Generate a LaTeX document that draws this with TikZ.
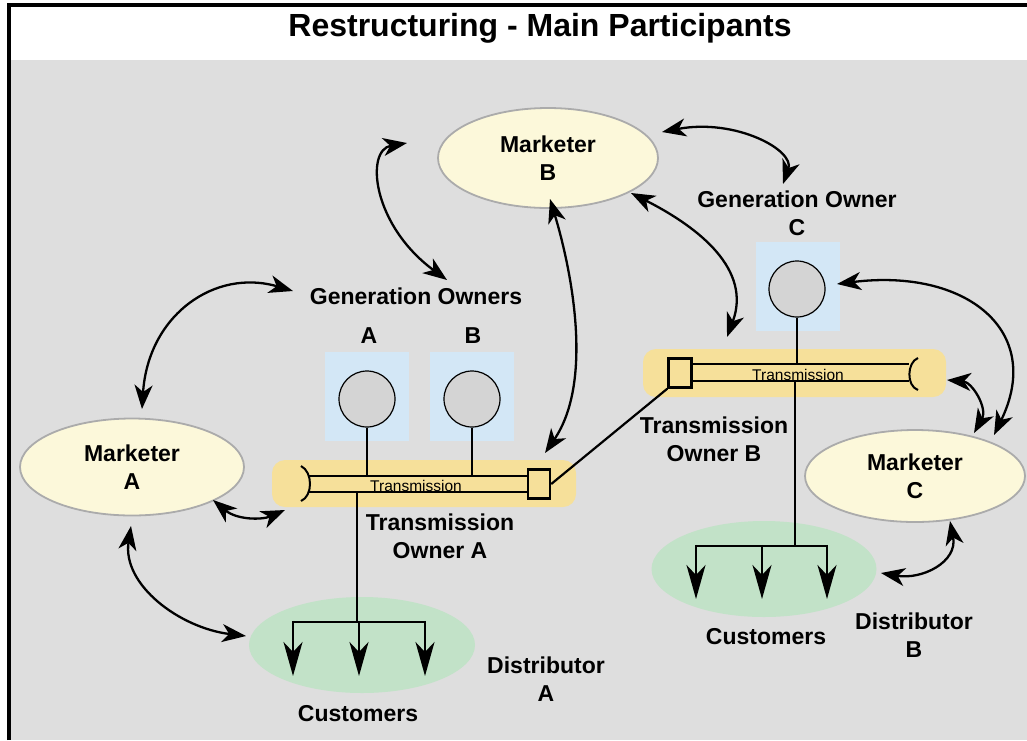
\documentclass[tikz,border=0pt]{standalone}
\usepackage{fontspec}
\setmainfont{Liberation Sans}
\usetikzlibrary{arrows.meta,shapes.geometric}
\definecolor{bggrey}{HTML}{DEDEDE}
\definecolor{mktfill}{HTML}{FCF8DA}
\definecolor{mktline}{HTML}{ABABAB}
\definecolor{genblue}{HTML}{D3E7F6}
\definecolor{gencirc}{HTML}{D4D4D4}
\definecolor{trnyellow}{HTML}{F6E09A}
\definecolor{custgreen}{HTML}{C2E2C8}
\tikzset{
  lbl/.style={font=\fontsize{23}{28}\selectfont\bfseries, align=center, inner sep=0pt},
  mkt/.style={ellipse, draw=mktline, line width=1.8pt, fill=mktfill, inner sep=0pt,
              font=\fontsize{23}{28}\selectfont\bfseries, align=center},
  genbox/.style={fill=genblue, minimum width=84pt, minimum height=89pt, inner sep=0pt},
  gencircle/.style={circle, draw=black, line width=1.2pt, fill=gencirc, minimum size=56pt, inner sep=0pt},
  trnband/.style={fill=trnyellow, rounded corners=13pt, inner sep=0pt},
  custell/.style={ellipse, fill=custgreen, inner sep=0pt},
  barline/.style={line width=2.4pt},
  tiny/.style={font=\fontsize{15.5}{18}\selectfont, inner sep=0pt},
  link/.style={line width=2.3pt, {Stealth[length=24pt,width=18pt,inset=7pt]}-{Stealth[length=24pt,width=18pt,inset=7pt]}},
  feed/.style={line width=2.4pt, -{Stealth[length=34pt,width=19pt,inset=10pt]}},
}
\begin{document}
\begin{tikzpicture}[x=1pt,y=-1pt]
\useasboundingbox (0,0) rectangle (1027,740);
% background, title band and frame
\fill[white] (0,0) rectangle (1027,740);
\fill[bggrey] (11,60) rectangle (1027,740);
\draw[line width=4pt] (9,740) -- (9,4.5) -- (1027,4.5);
\node[font=\fontsize{32}{36}\selectfont\bfseries, inner sep=0pt] (title) at (540,28) {Restructuring - Main Participants};

% generation owners A and B
\node[genbox] (gbA) at (367,396.5) {};
\node[genbox] (gbB) at (472,396.5) {};
\node[gencircle] (gA) at (367,399) {};
\node[gencircle] (gB) at (472,399) {};
\node[lbl] (gAl) at (369,336) {A};
\node[lbl] (gBl) at (473,336) {B};
\node[lbl] (gos) at (416,296) {Generation Owners};

% generation owner C
\node[genbox] (gbC) at (798,286.5) {};
\node[gencircle] (gC) at (797,289) {};
\node[lbl] (goc) at (797,213) {Generation Owner\\C};

% transmission owner A
\node[trnband, minimum width=304pt, minimum height=47pt] (tA) at (424,483.5) {};
\coordinate (tAtl) at (309,476);
\coordinate (tAbl) at (309,492);
\coordinate (tAtr) at (528,476);
\coordinate (tAbr) at (528,492);
\node[draw, line width=2.4pt, minimum width=22pt, minimum height=29pt, inner sep=0pt] (sqA) at (539,484) {};
\draw[barline] (tAtl) -- (tAtr) (tAbl) -- (tAbr);
\draw[line width=2pt] (301,466) .. controls (313,472) and (313,496) .. (301,501);
\node[tiny] (tAtxt) at (416,485.5) {Transmission};
\node[lbl] (tAl) at (440,536) {Transmission\\Owner A};

% transmission owner B
\node[trnband, minimum width=303pt, minimum height=48pt] (tB) at (794.5,373) {};
\coordinate (tBtl) at (692,364);
\coordinate (tBbl) at (692,381);
\coordinate (tBtr) at (909,364);
\coordinate (tBbr) at (909,381);
\node[draw, line width=2.4pt, minimum width=23pt, minimum height=29pt, inner sep=0pt] (sqB) at (680,373) {};
\draw[barline] (tBtl) -- (tBtr) (tBbl) -- (tBbr);
\draw[line width=2pt] (918,358) .. controls (907,362) and (906,386) .. (918,390);
\node[tiny] (tBtxt) at (798,374.5) {Transmission};
\node[lbl] (tBl) at (714,439) {Transmission\\Owner B};

% generator taps onto the lines
\draw[line width=1.2pt] (gA.south) -- (gA.south |- tAtl);
\draw[line width=1.2pt] (gB.south) -- (gB.south |- tAtl);
\draw[line width=1.2pt] (gC.south) -- (gC.south |- tBtl);

% interconnection between the two transmission owners
\draw[line width=2.2pt] (sqA.east) -- (sqB.south west);

% distributors and customers
\node[custell, minimum width=226pt, minimum height=96pt] (cA) at (362,645) {};
\node[custell, minimum width=225pt, minimum height=96pt] (cB) at (764,569) {};
\node[lbl] (cAl) at (358,714) {Customers};
\node[lbl] (cBl) at (766,637) {Customers};
\node[lbl] (dA) at (546,679) {Distributor\\A};
\node[lbl] (dB) at (914,635) {Distributor\\B};

% marketers
\node[mkt, minimum width=220pt, minimum height=100pt] (mB) at (548,158) {Marketer\\B};
\node[mkt, minimum width=224pt, minimum height=97pt] (mA) at (132,467) {Marketer\\A};
\node[mkt, minimum width=220pt, minimum height=92pt] (mC) at (915,476) {Marketer\\C};

% delivery trees
\coordinate (jA) at (357,622);
\coordinate (jB) at (795,546);
\draw[barline] (357,492) -- (jA);
\draw[barline] (293,622) -- (425,622);
\draw[feed] (293,620.8) -- (293,676);
\draw[feed] (359,620.8) -- (359,676);
\draw[feed] (425,620.8) -- (425,676);
\draw[barline] (795,381) -- (jB);
\draw[barline] (696,546) -- (827,546);
\draw[feed] (696,544.8) -- (696,599);
\draw[feed] (762,544.8) -- (762,599);
\draw[feed] (827,544.8) -- (827,599);

% business relationships
\coordinate (e1a) at (407,143);  \coordinate (e1b) at (447,280);
\coordinate (e2a) at (662,132);  \coordinate (e2b) at (783,184);
\coordinate (e3a) at (550,199);  \coordinate (e3b) at (545,453);
\coordinate (e4a) at (631,193);  \coordinate (e4b) at (727,337);
\coordinate (e5a) at (293,291);  \coordinate (e5b) at (142,409);
\coordinate (e6a) at (213,500);  \coordinate (e6b) at (285,510);
\coordinate (e7a) at (131,526);  \coordinate (e7b) at (246,636);
\coordinate (e8a) at (837,284);  \coordinate (e8b) at (994,435);
\coordinate (e9a) at (947,380);  \coordinate (e9b) at (974,433);
\coordinate (e10a) at (950,521); \coordinate (e10b) at (881,573);
\draw[link] (e1a) .. controls (365,150) and (372,225) .. (e1b);
\draw[link] (e2a) .. controls (735,118) and (795,150) .. (e2b);
\draw[link] (e3a) .. controls (570,265) and (595,380) .. (e3b);
\draw[link] (e4a) .. controls (700,228) and (752,270) .. (e4b);
\draw[link] (e5a) .. controls (215,268) and (148,315) .. (e5b);
\draw[link] (e6a) .. controls (237,520) and (262,520) .. (e6b);
\draw[link] (e7a) .. controls (122,585) and (180,628) .. (e7b);
\draw[link] (e8a) .. controls (965,268) and (1045,330) .. (e8b);
\draw[link] (e9a) .. controls (972,382) and (988,408) .. (e9b);
\draw[link] (e10a) .. controls (958,562) and (922,580) .. (e10b);
\end{tikzpicture}
\end{document}
